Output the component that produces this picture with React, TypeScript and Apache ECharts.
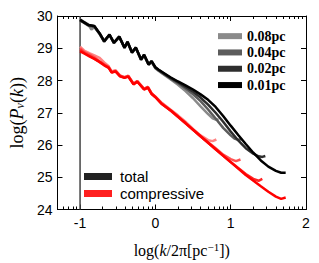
import React, { useEffect, useRef } from "react";
import * as echarts from "echarts";

// Resolutions (legend labels)
const resolutions = ["0.08pc", "0.04pc", "0.02pc", "0.01pc"];
const totalColors = ["#8a8a8a", "#5c5c5c", "#2e2e2e", "#000000"];
const compColors = ["#ff8585", "#ff5252", "#ff2626", "#ff0000"];

// Total power spectra [log k, log P]
const total008: number[][] = [
  [-1.0, 29.9], [-0.95, 29.82], [-0.89, 29.74], [-0.85, 29.58], [-0.81, 29.66], [-0.74, 29.45], [-0.68, 29.22],
  [-0.61, 29.43], [-0.55, 29.18], [-0.48, 29.36], [-0.41, 29.03], [-0.37, 29.19], [-0.31, 28.88], [-0.26, 29.02],
  [-0.19, 28.66], [-0.15, 28.79], [-0.09, 28.5], [-0.05, 28.58], [0.0, 28.38], [0.04, 28.3], [0.1, 28.2],
  [0.2, 28.04], [0.3, 27.87], [0.4, 27.67], [0.5, 27.45], [0.6, 27.2], [0.7, 26.96], [0.76, 26.83], [0.81, 26.78], [0.84, 26.8],
];
const total004: number[][] = [
  [-1.0, 29.86], [-0.95, 29.79], [-0.89, 29.7], [-0.81, 29.66], [-0.74, 29.44], [-0.68, 29.2],
  [-0.61, 29.41], [-0.55, 29.16], [-0.48, 29.34], [-0.41, 29.01], [-0.37, 29.18], [-0.31, 28.86], [-0.26, 29.0],
  [-0.19, 28.64], [-0.15, 28.78], [-0.09, 28.49], [-0.05, 28.57], [0.0, 28.39], [0.04, 28.32], [0.1, 28.22],
  [0.2, 28.06], [0.3, 27.92], [0.4, 27.75], [0.5, 27.57], [0.6, 27.36], [0.7, 27.1], [0.8, 26.82], [0.9, 26.53],
  [1.0, 26.3], [1.05, 26.2], [1.1, 26.16], [1.14, 26.18],
];
const total002: number[][] = [
  [-1.0, 29.88], [-0.95, 29.8], [-0.89, 29.72], [-0.81, 29.68], [-0.74, 29.46], [-0.68, 29.21],
  [-0.61, 29.42], [-0.55, 29.17], [-0.48, 29.36], [-0.41, 29.02], [-0.37, 29.2], [-0.31, 28.87], [-0.26, 29.02],
  [-0.19, 28.65], [-0.15, 28.8], [-0.09, 28.5], [-0.05, 28.6], [0.0, 28.4], [0.04, 28.33], [0.1, 28.24],
  [0.2, 28.08], [0.3, 27.95], [0.4, 27.8], [0.5, 27.65], [0.6, 27.47], [0.7, 27.25], [0.8, 27.0], [0.9, 26.72],
  [1.0, 26.42], [1.1, 26.14], [1.2, 25.9], [1.3, 25.73], [1.37, 25.65], [1.42, 25.63], [1.46, 25.66],
];
const total001: number[][] = [
  [-1.0, 29.88], [-0.95, 29.81], [-0.89, 29.72], [-0.81, 29.69], [-0.74, 29.46], [-0.68, 29.22],
  [-0.61, 29.42], [-0.55, 29.17], [-0.48, 29.36], [-0.41, 29.02], [-0.37, 29.2], [-0.31, 28.87], [-0.26, 29.02],
  [-0.19, 28.65], [-0.15, 28.8], [-0.09, 28.5], [-0.05, 28.6], [0.0, 28.41], [0.04, 28.34], [0.1, 28.25],
  [0.2, 28.1], [0.3, 27.97], [0.4, 27.85], [0.5, 27.72], [0.6, 27.57], [0.7, 27.4], [0.8, 27.18], [0.9, 26.9],
  [1.0, 26.6], [1.1, 26.31], [1.2, 26.03], [1.3, 25.76], [1.4, 25.52], [1.5, 25.33], [1.6, 25.2], [1.67, 25.14], [1.73, 25.14],
];

// Compressive power spectra [log k, log P]
const comp008: number[][] = [
  [-1.0, 29.05], [-0.94, 28.92], [-0.87, 28.84], [-0.81, 28.78], [-0.74, 28.7], [-0.68, 28.56], [-0.62, 28.44],
  [-0.58, 28.28], [-0.53, 28.32], [-0.47, 28.16], [-0.41, 28.1], [-0.36, 28.15], [-0.29, 27.9], [-0.24, 27.98],
  [-0.15, 27.74], [-0.1, 27.8], [-0.05, 27.6], [0.0, 27.5], [0.08, 27.32], [0.2, 27.1], [0.3, 26.92],
  [0.4, 26.72], [0.5, 26.5], [0.6, 26.3], [0.7, 26.15], [0.76, 26.12], [0.81, 26.17],
];
const comp004: number[][] = [
  [-1.0, 29.0], [-0.94, 28.88], [-0.87, 28.8], [-0.81, 28.72], [-0.74, 28.6], [-0.68, 28.5], [-0.62, 28.42],
  [-0.58, 28.26], [-0.53, 28.3], [-0.47, 28.15], [-0.41, 28.1], [-0.36, 28.14], [-0.29, 27.9], [-0.24, 27.98],
  [-0.15, 27.74], [-0.1, 27.8], [-0.05, 27.6], [0.0, 27.5], [0.08, 27.3], [0.2, 27.08], [0.4, 26.68],
  [0.6, 26.27], [0.8, 25.9], [0.9, 25.7], [1.0, 25.56], [1.07, 25.5], [1.13, 25.55],
];
const comp002: number[][] = [
  [-1.0, 28.95], [-0.94, 28.85], [-0.87, 28.76], [-0.81, 28.68], [-0.74, 28.58], [-0.68, 28.48], [-0.62, 28.4],
  [-0.58, 28.25], [-0.53, 28.29], [-0.47, 28.14], [-0.41, 28.09], [-0.36, 28.13], [-0.29, 27.89], [-0.24, 27.97],
  [-0.15, 27.73], [-0.1, 27.79], [-0.05, 27.59], [0.0, 27.49], [0.08, 27.29], [0.2, 27.07], [0.4, 26.67],
  [0.6, 26.27], [0.8, 25.87], [1.0, 25.47], [1.2, 25.1], [1.3, 24.95], [1.37, 24.89], [1.42, 24.95],
];
const comp001: number[][] = [
  [-1.0, 28.9], [-0.94, 28.83], [-0.87, 28.74], [-0.81, 28.67], [-0.74, 28.57], [-0.68, 28.47], [-0.62, 28.39],
  [-0.58, 28.25], [-0.53, 28.28], [-0.47, 28.13], [-0.41, 28.08], [-0.36, 28.12], [-0.29, 27.88], [-0.24, 27.96],
  [-0.15, 27.72], [-0.1, 27.78], [-0.05, 27.58], [0.0, 27.48], [0.08, 27.28], [0.2, 27.08], [0.4, 26.68],
  [0.6, 26.27], [0.8, 25.87], [1.0, 25.47], [1.2, 25.07], [1.4, 24.72], [1.5, 24.55], [1.6, 24.4],
  [1.67, 24.33], [1.73, 24.37],
];

const totals = [total008, total004, total002, total001];
const comps = [comp008, comp004, comp002, comp001];

// Axis ticks
const xMin = -1.3;
const xMax = 2;
const xMajorTicks = [-1, 0, 1, 2];
const decades = [-2, -1, 0, 1];
const mantissas = [2, 3, 4, 5, 6, 7, 8, 9];
const xMinorTicks: number[] = [];
decades.forEach((d) =>
  mantissas.forEach((m) => {
    const v = Math.log10(m * Math.pow(10, d));
    if (v > xMin && v < xMax) xMinorTicks.push(v);
  })
);
const yMin = 24;
const yMax = 30;
const vLine: number[][] = [[-1, 24], [-1, 30]];

const lineTypeNames = ["total", "compressive"];
const lineTypeColors = ["#222222", "#ff2020"];

export default function App() {
  const ref = useRef<HTMLDivElement>(null);
  useEffect(() => {
    if (!ref.current) return;
    const chart = echarts.init(ref.current, undefined, { renderer: "svg" });
    const sans = "'Liberation Sans', Arial, sans-serif";
    const serif = "'Liberation Serif', 'DejaVu Serif', serif";

    const mkX = (pos: "top" | "bottom", ticks: number[], len: number, line: boolean, labels: boolean) => ({
      type: "value",
      position: pos,
      min: xMin,
      max: xMax,
      axisLine: { show: line, onZero: false, lineStyle: { color: "#000", width: 1 } },
      splitLine: { show: false },
      axisTick: { show: true, inside: true, length: len, customValues: ticks, lineStyle: { color: "#000", width: 1 } },
      axisLabel: labels
        ? { show: true, customValues: ticks, fontFamily: sans, fontSize: 14, color: "#000", margin: 6, formatter: (v: number) => String(v) }
        : { show: false },
    });

    const xAxes: any[] = [
      {
        ...mkX("bottom", xMajorTicks, 5, true, true),
        name: "{n|log(}{i|k}{n|/2π[pc}{sup|−1}{n|])}",
        nameLocation: "middle",
        nameGap: 32,
        nameTextStyle: {
          rich: {
            n: { fontFamily: serif, fontSize: 16, color: "#000" },
            i: { fontFamily: serif, fontSize: 16, fontStyle: "italic", color: "#000" },
            sup: { fontFamily: serif, fontSize: 11, color: "#000", verticalAlign: "top", padding: [0, 0, 6, 0] },
          },
        },
      },
      mkX("bottom", xMinorTicks, 3, false, false),
      mkX("top", xMajorTicks, 5, true, false),
      mkX("top", xMinorTicks, 3, false, false),
    ];

    const series: any[] = [];
    totals.forEach((d, i) => {
      series.push({
        name: resolutions[i],
        type: "line",
        xAxisIndex: 0,
        data: d,
        showSymbol: false,
        lineStyle: { color: totalColors[i], width: 2.5 },
        itemStyle: { color: totalColors[i] },
        z: 2 + i,
      });
    });
    comps.forEach((d, i) => {
      series.push({
        name: resolutions[i] + " compressive",
        type: "line",
        xAxisIndex: 0,
        data: d,
        showSymbol: false,
        lineStyle: { color: compColors[i], width: 2.5 },
        itemStyle: { color: compColors[i] },
        z: 2 + i,
      });
    });
    lineTypeNames.forEach((n, i) => {
      series.push({
        name: n,
        type: "line",
        data: [],
        showSymbol: false,
        lineStyle: { color: lineTypeColors[i], width: 2.5 },
        itemStyle: { color: lineTypeColors[i] },
      });
    });
    series.push({
      name: "k0",
      type: "line",
      data: vLine,
      showSymbol: false,
      lineStyle: { color: "#444", width: 1.5 },
      z: 1,
    });

    chart.setOption({
      animation: false,
      grid: { left: 53, right: 13, top: 16, bottom: 51 },
      xAxis: xAxes,
      yAxis: [
        {
          type: "value",
          min: yMin,
          max: yMax,
          interval: 1,
          position: "left",
          axisLine: { show: true, onZero: false, lineStyle: { color: "#000", width: 1 } },
          axisTick: { show: true, inside: true, length: 5, lineStyle: { color: "#000" } },
          splitLine: { show: false },
          axisLabel: { fontFamily: sans, fontSize: 14, color: "#000", margin: 5 },
          name: "{n|log(}{i|P}{s|v}{n|(}{i|k}{n|))}",
          nameLocation: "middle",
          nameGap: 31,
          nameTextStyle: {
            rich: {
              n: { fontFamily: serif, fontSize: 18, color: "#000" },
              i: { fontFamily: serif, fontSize: 18, fontStyle: "italic", color: "#000" },
              s: { fontFamily: serif, fontSize: 12, fontStyle: "italic", color: "#000", verticalAlign: "bottom", padding: [6, 0, 0, 0] },
            },
          },
        },
        {
          type: "value",
          min: yMin,
          max: yMax,
          interval: 1,
          position: "right",
          axisLine: { show: true, onZero: false, lineStyle: { color: "#000", width: 1 } },
          axisTick: { show: true, inside: true, length: 5, lineStyle: { color: "#000" } },
          splitLine: { show: false },
          axisLabel: { show: false },
        },
      ],
      legend: [
        {
          data: resolutions,
          orient: "vertical",
          left: 213,
          top: 23,
          icon: "rect",
          itemWidth: 24,
          itemHeight: 6,
          itemGap: 0,
          selectedMode: false,
          textStyle: { fontFamily: serif, fontWeight: "bold", fontSize: 14, color: "#000", lineHeight: 16.3 },
        },
        {
          data: lineTypeNames,
          orient: "vertical",
          left: 79,
          top: 163,
          icon: "rect",
          itemWidth: 28,
          itemHeight: 7,
          itemGap: 0,
          selectedMode: false,
          textStyle: { fontFamily: sans, fontSize: 15, color: "#000", lineHeight: 17, padding: [0, 0, 0, 3] },
        },
      ],
      series,
    });
    return () => chart.dispose();
  }, []);
  return <div ref={ref} style={{ width: 319, height: 263, marginLeft: -8, marginTop: -8 }} />;
}
